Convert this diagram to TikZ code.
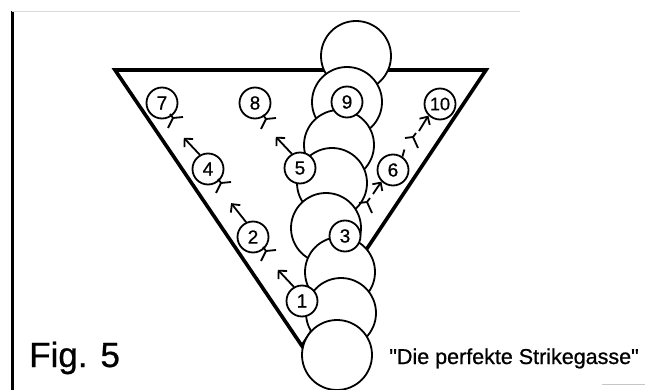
\documentclass[tikz,border=0pt]{standalone}
\usepackage{fontspec}
\setmainfont{Liberation Sans}
\newfontfamily\scanfont[FakeBold=0.8]{Liberation Sans}
\usetikzlibrary{arrows.meta,calc}
\begin{document}
\begin{tikzpicture}[x=1pt,y=-1pt,
  ball/.style={circle,draw,line width=1.8pt,fill=white,minimum size=70pt,inner sep=0pt},
  pin/.style={circle,draw,line width=1.8pt,fill=white,minimum size=31pt,inner sep=0pt,font=\scanfont\fontsize{19}{19}\selectfont},
  lane/.style={line width=3.6pt,line join=miter},
  traj/.style={line width=1.8pt,-{Straight Barb[length=6pt,width=12pt,line width=1.8pt]}},
  tailmark/.style={line width=1.8pt},
  pics/ltail/.style={code={\draw[tailmark] (0,0) -- (10,-1) (0,0) -- (-5,10) (0,0) -- (-3,-4);}},
  pics/rtail/.style={code={\draw[tailmark] (0,0) -- (-8,1) (0,0) -- (5,11) (0,0) -- (3,-4);}}]
\useasboundingbox (0,0) rectangle (645,390);
% frame remnants
\draw[line width=3pt] (12,11) -- (12,390);
\draw[gray!30,line width=0.8pt] (12,11) -- (520,11);
\draw[gray!45,line width=1pt] (602,384) -- (645,384);
% lane triangle
\coordinate (tl) at (115,70);
\coordinate (tr) at (486,70);
\coordinate (bv) at (302,346);
\draw[lane] (tl) -- (tr) -- (bv) -- cycle;
% ball path
\node[ball] (b1) at (356,56) {};
\node[ball] (b2) at (347,102) {};
\node[ball] (b3) at (339,145) {};
\node[ball] (b4) at (332,183) {};
\node[ball] (b5) at (326,228) {};
\node[ball] (b6) at (340,272) {};
\node[ball] (b7) at (341,313) {};
\node[ball] (b8) at (337,355) {};
% pins
\node[pin] (p7) at (162,103) {7};
\node[pin] (p8) at (255,103) {8};
\node[pin] (p9) at (347,102) {9};
\node[pin,font=\scanfont\fontsize{18}{18}\selectfont] (p10) at (440,104) {10};
\node[pin] (p4) at (208,169) {4};
\node[pin] (p5) at (300,168) {5};
\node[pin] (p6) at (393,170) {6};
\node[pin] (p2) at (253,237) {2};
\node[pin] (p3) at (345,236) {3};
\node[pin] (p1) at (302,301) {1};
% left deflections
\draw[traj] (p1.120) -- ++(-16,-17);
\draw[traj] (p2.115) -- ++(-15,-19);
\draw[traj] (p4.120) -- ++(-16,-17);
\draw[traj] (p5.120) -- ++(-16,-17);
\pic at ($(p2)+(13,14)$) {ltail};
\pic at ($(p4)+(13,14)$) {ltail};
\pic at ($(p7)+(11,15)$) {ltail};
\pic at ($(p8)+(11,16)$) {ltail};
% right deflections
\coordinate (r3) at (367,202);
\coordinate (r6) at (413,137);
\pic at (r3) {rtail};
\draw[traj] (373,194) -- (p6.225);
\draw[tailmark] (p6.55) -- ++(2,-7);
\pic at (r6) {rtail};
\draw[traj] (419,131) -- (p10.225);
% captions
\node[anchor=base west,inner sep=0pt,font=\scanfont\fontsize{35}{35}\selectfont] (fig) at (29,367) {Fig. 5};
\node[anchor=base east,inner sep=0pt,font=\scanfont\fontsize{21.5}{21.5}\selectfont] (cap) at (639,364) {\char"22 Die perfekte Strikegasse\char"22};
\end{tikzpicture}
\end{document}
